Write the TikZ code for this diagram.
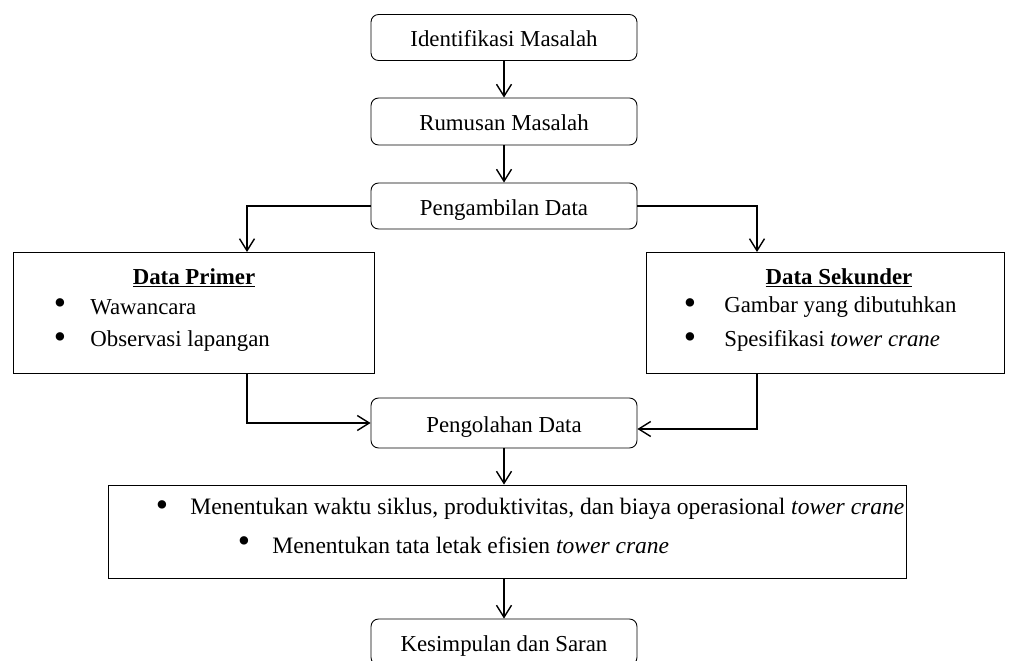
\documentclass[tikz,border=0pt]{standalone}
\usepackage{fontspec}
\setmainfont{Liberation Serif}
\usetikzlibrary{arrows.meta}

\begin{document}
\begin{tikzpicture}[x=0.02cm, y=-0.02cm, font=\fontsize{13}{15}\selectfont]
   \tikzstyle{myRound}=[draw, rounded corners=0.15cm, minimum width=5.32cm, minimum height=0.92cm, line width=0.5pt, text height=2.3ex, text depth=0pt]
   \tikzstyle{myBox}=[draw, line width=0.5pt]
   \tikzstyle{myArr}=[-{Straight Barb[length=0.24cm, width=0.3cm]}, line width=0.8pt]
   \tikzstyle{myTxt}=[inner sep=0pt, anchor=west]
   \tikzstyle{myDot}=[inner sep=0pt, font=\fontsize{20}{20}\selectfont]

   \useasboundingbox (0,0) rectangle (1024,661);

   \node[myRound] (im) at (504,37.5) {Identifikasi Masalah};
   \node[myRound, minimum height=0.94cm] (rm) at (504,121.5) {Rumusan Masalah};
   \node[myRound] (pd) at (504,206) {Pengambilan Data};

   % data primer
   \node[myBox, minimum width=7.22cm, minimum height=2.42cm] (dp) at (193.5,312.5) {};
   \node (dpt) at (194,278) {\underline{\textbf{Data Primer}}};
   \node[myDot] (dpb1) at (60,307) {\textbullet};
   \node[myTxt] (dpw) at (90,307) {Wawancara};
   \node[myDot] (dpb2) at (60,341) {\textbullet};
   \node[myTxt] (dpo) at (90,341) {Observasi lapangan};

   % data sekunder
   \node[myBox, minimum width=7.16cm, minimum height=2.42cm] (ds) at (825,312.5) {};
   \node (dst) at (839,278) {\underline{\textbf{Data Sekunder}}};
   \node[myDot] (dsb1) at (690,307) {\textbullet};
   \node[myTxt] (dsg) at (724,307) {Gambar yang dibutuhkan};
   \node[myDot] (dsb2) at (690,341) {\textbullet};
   \node[myTxt] (dss) at (724,341) {Spesifikasi \textit{tower crane}};

   \node[myRound, minimum height=1.0cm] (pl) at (504,423) {Pengolahan Data};

   % hasil
   \node[myBox, minimum width=15.98cm, minimum height=1.86cm] (hs) at (507.5,531.5) {};
   \node[myDot] (hsb1) at (162,509) {\textbullet};
   \node[myTxt, font=\fontsize{13.4}{15}\selectfont] (hsw) at (190,509) {Menentukan waktu siklus, produktivitas, dan biaya operasional \textit{tower crane}};
   \node[myDot] (hsb2) at (244,545) {\textbullet};
   \node[myTxt, font=\fontsize{13.4}{15}\selectfont] (hst) at (272,545) {Menentukan tata letak efisien \textit{tower crane}};

   \node[myRound] (ks) at (504,642) {Kesimpulan dan Saran};

   \coordinate (dpin) at (247,252);
   \coordinate (dsin) at (757,252);

   \draw[myArr] (im) -- (rm);
   \draw[myArr] (rm) -- (pd);
   \draw[myArr] (pd.west) -| (dpin);
   \draw[myArr] (pd.east) -| (dsin);
   \draw[myArr] (dp.south -| dpin) |- (pl.west);
   \draw[myArr] (ds.south -| dsin) |- ([yshift=-0.12cm]pl.east);
   \draw[myArr] (pl.south) -- (pl.south |- hs.north);
   \draw[myArr] (hs.south -| ks) -- (ks.north);
\end{tikzpicture}
\end{document}
